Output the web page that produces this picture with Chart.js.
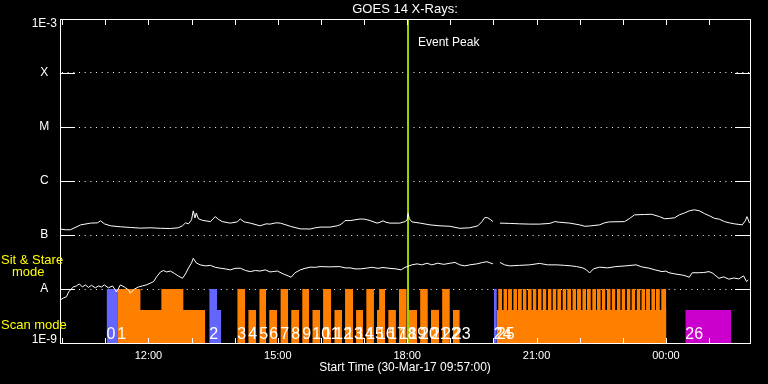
<!DOCTYPE html>
<html><head><meta charset="utf-8">
<script src="https://cdn.jsdelivr.net/npm/chart.js@4.4.1/dist/chart.umd.min.js"></script>
<style>html,body{margin:0;padding:0;background:#000;}canvas{display:block;}</style>
</head><body>
<canvas id="c" width="768" height="384"></canvas>
<script>
// ---------- DATA ----------
// times in decimal hours of 30-Mar-17 (values > 24 are on 31-Mar)
const longTimes = [9.96,10.08,10.19,10.43,10.66,10.82,10.89,10.98,11.12,11.35,11.58,11.81,12.05,12.28,12.51,12.69,12.79,12.86,12.93,13.00,13.04,13.08,13.11,13.16,13.25,13.44,13.50,13.55,13.62,13.71,13.90,14.06,14.13,14.22,14.36,14.59,14.73,14.82,14.96,15.06,15.19,15.29,15.52,15.75,15.87,15.98,16.21,16.38,16.44,16.51,16.56,16.68,16.79,16.91,17.02,17.14,17.30,17.37,17.44,17.51,17.60,17.83,17.95,18.00,18.02,18.05,18.11,18.30,18.53,18.76,18.99,19.22,19.45,19.64,19.73,19.80,19.87,19.94,19.99,20.05,20.15,20.38,20.61,20.84,21.07,21.31,21.42,21.54,21.77,22.00,22.12,22.23,22.46,22.58,22.69,23.04,23.15,23.27,23.50,23.67,23.85,23.97,24.08,24.20,24.31,24.43,24.54,24.66,24.78,24.89,25.01,25.13,25.24,25.36,25.47,25.59,25.77,25.84,25.88,25.94];
const longFlux = [1.29e-7,1.25e-7,1.25e-7,1.54e-7,1.66e-7,1.68e-7,1.83e-7,1.61e-7,1.48e-7,1.42e-7,1.38e-7,1.34e-7,1.36e-7,1.33e-7,1.32e-7,1.36e-7,1.48e-7,1.68e-7,1.61e-7,1.91e-7,2.8e-7,2.08e-7,2.55e-7,2.0e-7,1.87e-7,1.77e-7,2.0e-7,2.19e-7,1.96e-7,1.77e-7,1.66e-7,1.75e-7,1.98e-7,1.75e-7,1.66e-7,1.48e-7,1.61e-7,1.59e-7,1.68e-7,1.66e-7,1.54e-7,1.45e-7,1.30e-7,1.29e-7,1.36e-7,1.40e-7,1.40e-7,1.48e-7,1.54e-7,1.68e-7,1.85e-7,1.85e-7,1.91e-7,1.98e-7,1.96e-7,1.85e-7,1.66e-7,1.72e-7,1.83e-7,1.72e-7,1.66e-7,1.66e-7,1.77e-7,1.91e-7,2.5e-7,2.0e-7,1.75e-7,1.66e-7,1.54e-7,1.48e-7,1.45e-7,1.33e-7,1.36e-7,1.48e-7,1.75e-7,2.1e-7,2.08e-7,1.91e-7,1.77e-7,null,1.66e-7,1.64e-7,1.61e-7,1.59e-7,1.59e-7,1.64e-7,1.77e-7,1.72e-7,1.66e-7,1.54e-7,1.45e-7,1.47e-7,1.54e-7,1.68e-7,1.75e-7,1.77e-7,2.0e-7,2.36e-7,2.4e-7,2.42e-7,2.19e-7,2.0e-7,2.03e-7,2.08e-7,2.36e-7,2.55e-7,2.8e-7,2.93e-7,2.8e-7,2.5e-7,2.27e-7,2.03e-7,1.96e-7,1.77e-7,1.68e-7,1.61e-7,1.54e-7,1.83e-7,2.19e-7,1.66e-7];

const shortTimes = [9.96,10.03,10.10,10.15,10.19,10.26,10.33,10.40,10.47,10.54,10.61,10.68,10.77,10.84,10.91,10.98,11.07,11.17,11.26,11.35,11.44,11.54,11.58,11.68,11.77,11.86,11.95,12.05,12.12,12.19,12.28,12.35,12.42,12.51,12.60,12.69,12.79,12.86,12.93,13.00,13.04,13.11,13.20,13.32,13.44,13.55,13.67,13.78,13.90,14.01,14.13,14.25,14.36,14.48,14.59,14.71,14.82,14.99,15.13,15.24,15.31,15.40,15.52,15.63,15.75,15.87,15.98,16.21,16.44,16.56,16.68,16.79,16.91,17.05,17.19,17.32,17.44,17.60,17.74,17.86,17.93,18.00,18.11,18.23,18.34,18.46,18.57,18.71,18.85,18.99,19.11,19.22,19.34,19.45,19.62,19.75,19.85,19.92,19.99,20.05,20.15,20.26,20.38,20.61,20.84,21.07,21.26,21.47,21.65,21.81,21.93,22.07,22.16,22.23,22.32,22.46,22.65,22.84,23.07,23.31,23.44,23.61,23.75,23.91,24.00,24.07,24.21,24.37,24.46,24.54,24.61,24.77,24.88,25.00,25.09,25.16,25.23,25.34,25.46,25.57,25.69,25.80,25.87,25.91];
const shortFlux = [6.3e-9,6.8e-9,7.2e-9,8.8e-9,9.6e-9,1.09e-8,1.14e-8,1.24e-8,1.09e-8,1.19e-8,1.07e-8,1.17e-8,1.05e-8,1.14e-8,1.09e-8,1.19e-8,1.05e-8,1.14e-8,8.8e-9,1.19e-8,1.09e-8,9.6e-9,8.4e-9,1.0e-8,1.09e-8,1.14e-8,1.19e-8,1.29e-8,1.37e-8,1.68e-8,2.07e-8,2.2e-8,2.07e-8,2.15e-8,1.95e-8,1.75e-8,1.58e-8,1.9e-8,2.46e-8,3.05e-8,3.7e-8,3.05e-8,2.8e-8,2.68e-8,2.74e-8,2.52e-8,2.43e-8,2.36e-8,2.26e-8,2.41e-8,2.43e-8,2.2e-8,2.1e-8,2.2e-8,2.15e-8,2.26e-8,2.07e-8,2.15e-8,1.9e-8,1.75e-8,1.65e-8,2.0e-8,2.26e-8,2.41e-8,2.54e-8,2.52e-8,2.6e-8,2.57e-8,2.6e-8,2.46e-8,2.46e-8,2.36e-8,2.36e-8,2.43e-8,2.52e-8,2.41e-8,2.5e-8,2.41e-8,2.36e-8,2.26e-8,2.46e-8,2.6e-8,2.8e-8,2.92e-8,2.8e-8,3.0e-8,2.8e-8,3.0e-8,2.86e-8,3.0e-8,3.1e-8,2.8e-8,2.68e-8,2.8e-8,2.92e-8,3.1e-8,3.2e-8,3.05e-8,2.92e-8,null,3.1e-8,2.8e-8,2.68e-8,2.74e-8,2.8e-8,2.98e-8,2.8e-8,2.8e-8,2.74e-8,2.68e-8,2.6e-8,2.46e-8,2.26e-8,1.98e-8,2.36e-8,2.54e-8,2.46e-8,2.6e-8,2.68e-8,2.8e-8,2.57e-8,2.43e-8,2.26e-8,2.1e-8,2.15e-8,2.0e-8,1.9e-8,1.82e-8,1.75e-8,1.65e-8,2.0e-8,2.0e-8,2.02e-8,2.1e-8,1.95e-8,1.75e-8,1.58e-8,1.68e-8,1.52e-8,1.6e-8,1.54e-8,1.75e-8,1.37e-8,1.47e-8];

const eventPeakTime = 18.02;

const yTickValues = [1e-9, 1e-8, 1e-7, 1e-6, 1e-5, 1e-4, 1e-3];
const yTickLabels = ['1E-9', 'A', 'B', 'C', 'M', 'X', '1E-3'];
const hourTicks = [10,11,12,13,14,15,16,17,18,19,20,21,22,23,24,25];

// observation timeline blocks: [start hour, end hour, level]
const LEVEL_FULL = 1e-8;
const LEVEL_HALF = 4.1e-9;
const blueBlocks = [
  [11.03, 11.275, LEVEL_FULL],
  [13.41, 13.59, LEVEL_FULL], [13.59, 13.69, LEVEL_HALF],
  [20.01, 20.08, LEVEL_FULL]
];
const orangeBlocks = [
  [11.275, 11.815, LEVEL_FULL], [11.815, 12.30, LEVEL_HALF], [12.30, 12.81, LEVEL_FULL], [12.81, 13.32, LEVEL_HALF],
  [14.06, 14.245, LEVEL_FULL], [14.315, 14.50, LEVEL_HALF], [14.57, 14.73, LEVEL_FULL], [14.80, 14.99, LEVEL_HALF],
  [15.06, 15.24, LEVEL_FULL], [15.31, 15.50, LEVEL_HALF], [15.565, 15.73, LEVEL_FULL], [15.80, 15.98, LEVEL_HALF],
  [16.05, 16.24, LEVEL_FULL], [16.31, 16.49, LEVEL_HALF], [16.56, 16.745, LEVEL_FULL], [16.815, 16.98, LEVEL_HALF],
  [17.05, 17.23, LEVEL_FULL], [17.30, 17.35, LEVEL_HALF], [17.35, 17.49, LEVEL_FULL], [17.56, 17.74, LEVEL_HALF],
  [17.81, 17.99, LEVEL_FULL], [18.03, 18.23, LEVEL_HALF], [18.30, 18.48, LEVEL_FULL], [18.55, 18.74, LEVEL_HALF],
  [18.81, 18.99, LEVEL_FULL], [19.06, 19.22, LEVEL_HALF],
  [20.08, 24.01, LEVEL_HALF]
];
const orangeStripes = [
  [20.11,20.20,LEVEL_FULL],[20.23,20.32,LEVEL_FULL],[20.34,20.43,LEVEL_FULL],[20.46,20.55,LEVEL_FULL],
  [20.57,20.66,LEVEL_FULL],[20.68,20.77,LEVEL_FULL],[20.80,20.89,LEVEL_FULL],[20.91,21.00,LEVEL_FULL],
  [21.03,21.12,LEVEL_FULL],[21.14,21.23,LEVEL_FULL],[21.26,21.35,LEVEL_FULL],[21.37,21.46,LEVEL_FULL],
  [21.48,21.57,LEVEL_FULL],[21.60,21.69,LEVEL_FULL],[21.71,21.80,LEVEL_FULL],[21.83,21.92,LEVEL_FULL],
  [21.94,22.03,LEVEL_FULL],[22.06,22.15,LEVEL_FULL],[22.17,22.26,LEVEL_FULL],[22.29,22.38,LEVEL_FULL],
  [22.40,22.49,LEVEL_FULL],[22.51,22.60,LEVEL_FULL],[22.63,22.72,LEVEL_FULL],[22.74,22.83,LEVEL_FULL],
  [22.86,22.95,LEVEL_FULL],[22.97,23.06,LEVEL_FULL],[23.09,23.18,LEVEL_FULL],[23.20,23.29,LEVEL_FULL],
  [23.32,23.41,LEVEL_FULL],[23.43,23.52,LEVEL_FULL],[23.54,23.63,LEVEL_FULL],[23.66,23.75,LEVEL_FULL],
  [23.77,23.86,LEVEL_FULL],[23.89,24.01,LEVEL_FULL]
];
const magentaBlocks = [[24.45, 25.51, LEVEL_HALF]];

const scanNumbers = [0,1,2,3,4,5,6,7,8,9,10,11,12,13,14,15,16,17,18,19,20,21,22,23,24,25,26];
const scanStarts = [11.03,11.275,13.41,14.06,14.315,14.57,14.80,15.06,15.31,15.565,15.80,16.05,16.31,16.56,16.815,17.05,17.30,17.56,17.81,18.03,18.30,18.55,18.81,19.06,20.01,20.08,24.45];

// ---------- BUILD ----------
const FONT = 'Liberation Sans';
Chart.defaults.font.family = FONT;

function toPoints(times, vals) { return times.map((t, i) => ({x: t, y: vals[i]})); }
function blocksToPoints(blocks) {
  const pts = [];
  blocks.forEach((b, i) => {
    const prev = blocks[i - 1];
    if (prev && Math.abs(prev[1] - b[0]) > 1e-6) pts.push({x: (prev[1] + b[0]) / 2, y: null});
    pts.push({x: b[0], y: b[2]}, {x: b[1], y: b[2]});
  });
  return pts;
}
function blockDataset(blocks, color, order) {
  return {data: blocksToPoints(blocks), borderWidth: 0, borderColor: color, backgroundColor: color,
    fill: 'start', pointRadius: 0, spanGaps: false, tension: 0, order: order};
}

const decor = {
  id: 'decor',
  afterDraw(chart) {
    const {ctx, chartArea: a, scales: {x, y}} = chart;
    ctx.save();
    ctx.strokeStyle = '#ffffff';
    ctx.lineWidth = 1;
    ctx.strokeRect(a.left + 0.5, a.top + 0.5, a.right - a.left, a.bottom - a.top);
    ctx.beginPath();
    yTickValues.forEach((v, i) => {
      if (i === 0 || i === yTickValues.length - 1) return;
      const py = Math.round(y.getPixelForValue(v)) + 0.5;
      ctx.moveTo(a.left, py); ctx.lineTo(a.left + 15, py);
      ctx.moveTo(a.right - 15, py); ctx.lineTo(a.right + 1, py);
    });
    hourTicks.forEach(h => {
      const px = Math.round(x.getPixelForValue(h)) + 0.5;
      ctx.moveTo(px, a.top); ctx.lineTo(px, a.top + 6);
      ctx.moveTo(px, a.bottom + 1); ctx.lineTo(px, a.bottom - 5);
    });
    ctx.stroke();
    // scan numbers
    ctx.fillStyle = '#ffffff';
    ctx.font = '16px "' + FONT + '"';
    ctx.textAlign = 'left';
    ctx.textBaseline = 'alphabetic';
    scanNumbers.forEach((n, i) => {
      ctx.fillText(String(n), x.getPixelForValue(scanStarts[i]), a.bottom - 4);
    });
    // event peak
    ctx.font = '12px "' + FONT + '"';
    ctx.textBaseline = 'middle';
    ctx.fillText('Event Peak', x.getPixelForValue(eventPeakTime) + 10, 43);
    // mode labels
    ctx.fillStyle = '#ffff00';
    ctx.textBaseline = 'alphabetic';
    ctx.font = '13px "' + FONT + '"';
    ctx.fillText('Sit & Stare', 1, 264);
    ctx.fillText('mode', 12, 276);
    ctx.fillText('Scan mode', 1, 329);
    ctx.restore();
  }
};

const datasets = [
  {data: toPoints(longTimes, longFlux), borderColor: '#ffffff', borderWidth: 1, pointRadius: 0, fill: false, spanGaps: false, tension: 0, order: 0},
  {data: toPoints(shortTimes, shortFlux), borderColor: '#ffffff', borderWidth: 1, pointRadius: 0, fill: false, spanGaps: false, tension: 0, order: 0},
  {data: [{x: eventPeakTime, y: yTickValues[0]}, {x: eventPeakTime, y: yTickValues[yTickValues.length - 1]}],
   borderColor: '#a0d000', borderWidth: 2, pointRadius: 0, fill: false, order: 1},
  blockDataset(blueBlocks, '#6464ff', 2),
  blockDataset(orangeBlocks, '#ff8000', 2),
  blockDataset(orangeStripes, '#ff8000', 2),
  blockDataset(magentaBlocks, '#cc00cc', 2)
];

new Chart(document.getElementById('c'), {
  type: 'line',
  data: {datasets: datasets},
  options: {
    responsive: false,
    animation: false,
    devicePixelRatio: 1,
    layout: {padding: {left: 0, right: 18, top: 0, bottom: 0}},
    plugins: {
      legend: {display: false},
      tooltip: {enabled: false},
      title: {display: true, text: 'GOES 14 X-Rays:', color: '#ffffff', fullSize: false,
        font: {family: FONT, size: 13, weight: 'normal'}, padding: {top: 1.5, bottom: 1.9}}
    },
    scales: {
      x: {
        type: 'linear', position: 'bottom', min: 9.95, max: 25.95,
        afterBuildTicks: s => { s.ticks = hourTicks.map(v => ({value: v})); },
        afterFit: s => { s.height = 41; },
        ticks: {autoSkip: false, maxRotation: 0, color: '#ffffff', padding: 6,
          font: {family: FONT, size: 11},
          callback: v => (v % 3 === 0) ? String(v % 24).padStart(2, '0') + ':00' : ''},
        grid: {display: false, drawTicks: false},
        border: {display: false},
        title: {display: true, text: 'Start Time (30-Mar-17 09:57:00)', color: '#ffffff',
          font: {family: FONT, size: 12}, padding: {top: 0, bottom: 9}}
      },
      y: {
        type: 'logarithmic', position: 'left', min: 1e-9, max: 1e-3,
        afterBuildTicks: s => { s.ticks = yTickValues.map(v => ({value: v})); },
        afterFit: s => { s.width = 60; },
        ticks: {
          color: '#ffffff', crossAlign: 'center', padding: 3, autoSkip: false,
          font: c => ({family: FONT, size: 12, lineHeight: c.index === 0 ? '6px' : (c.index === yTickValues.length - 1 ? '10px' : 1.2)}),
          callback: (v, i) => {
            const lab = yTickLabels[i];
            if (i === 0) return [lab, ''];
            if (i === yTickLabels.length - 1) return ['', lab];
            return lab;
          }
        },
        grid: {drawTicks: false, lineWidth: 1,
          color: c => (c.index === 0 || c.index === yTickValues.length - 1) ? 'rgba(0,0,0,0)' : '#ffffff'},
        border: {display: false, dash: [1, 4.67], dashOffset: 3.67}
      }
    }
  },
  plugins: [decor]
});
</script>
</body></html>
